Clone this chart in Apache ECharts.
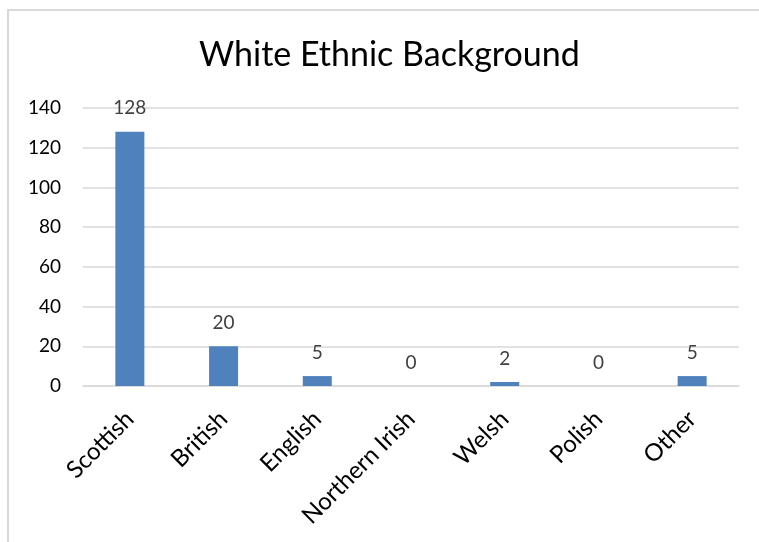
<!DOCTYPE html>
<html>
<head>
<meta charset="utf-8">
<script src="https://cdn.jsdelivr.net/npm/echarts@6/dist/echarts.min.js"></script>
<style>
  html, body { margin: 0; padding: 0; background: #fff; }
  #frame { position: absolute; left: 7px; top: 9px; width: 760px; height: 540px;
           border-left: 2px solid #d9d9d9; border-top: 2px solid #d9d9d9; box-sizing: border-box; }
  #chart { position: absolute; left: 0; top: 0; width: 759px; height: 542px; }
</style>
</head>
<body>
<div id="frame"></div>
<div id="chart"></div>
<script>
// Respondents by white ethnic background
const categories = ['Scottish', 'British', 'English', 'Northern Irish', 'Welsh', 'Polish', 'Other'];
const counts = [128, 20, 5, 0, 2, 0, 5];
const yTicks = [0, 20, 40, 60, 80, 100, 120, 140];

const font = 'Lato, "Open Sans", sans-serif';
const chart = echarts.init(document.getElementById('chart'), null, { renderer: 'canvas' });

chart.setOption({
  backgroundColor: 'transparent',
  animation: false,
  title: {
    text: 'White Ethnic Background',
    left: 194,
    top: 33,
    textStyle: { fontFamily: font, fontSize: 34, fontWeight: 'normal', color: '#000' }
  },
  grid: { left: 83, right: 20, top: 108, bottom: 156, containLabel: false },
  xAxis: {
    type: 'category',
    data: categories,
    axisLine: { show: true, lineStyle: { color: '#d9d9d9', width: 1.5 } },
    axisTick: { show: false },
    axisLabel: {
      rotate: 45,
      interval: 0,
      margin: 29,
      fontFamily: font,
      fontSize: 24,
      color: '#000'
    }
  },
  yAxis: {
    type: 'value',
    min: yTicks[0],
    max: yTicks[yTicks.length - 1],
    interval: 20,
    axisLine: { show: false },
    axisTick: { show: false },
    splitLine: { lineStyle: { color: '#d9d9d9', width: 1.5 } },
    axisLabel: { margin: 22, fontFamily: font, fontSize: 19, color: '#000' }
  },
  series: [{
    type: 'bar',
    data: counts,
    barWidth: 29,
    itemStyle: { color: '#4f81bd' },
    label: {
      show: true,
      position: 'top',
      distance: 14,
      fontFamily: font,
      fontSize: 19,
      color: '#404040'
    }
  }]
});
</script>
</body>
</html>
